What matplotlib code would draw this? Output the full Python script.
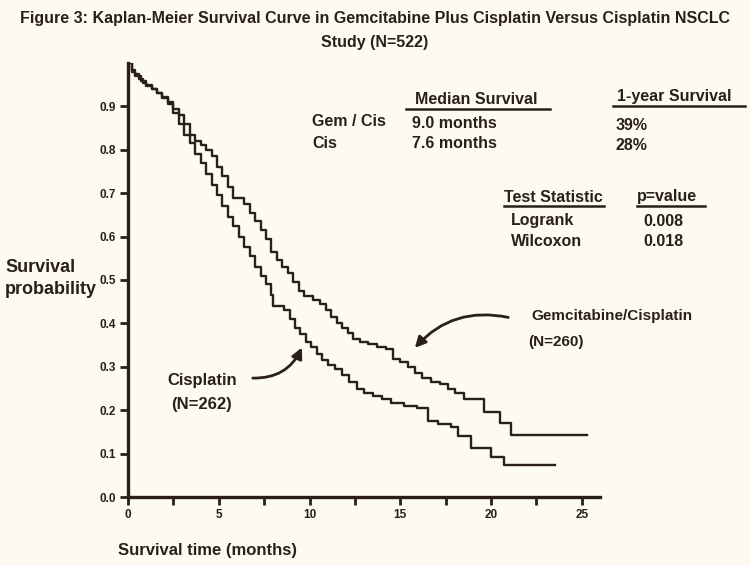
import matplotlib
matplotlib.use("Agg")
import matplotlib.pyplot as plt
from matplotlib.lines import Line2D
from matplotlib.patches import FancyArrowPatch

# 颜色与字体
ink = "#2a2016"
bgcolor = "#fdfaf1"
body_font = ["Liberation Sans", "DejaVu Sans"]

# Kaplan-Meier 数据：时间（月）与生存率
gem_time = [0, 0.2, 0.4, 0.6, 0.8, 1.0, 1.3, 1.6, 1.9, 2.2, 2.5, 2.8, 3.1, 3.4,
            3.7, 4.0, 4.3, 4.6, 4.9, 5.2, 5.5, 5.8, 6.4, 6.7, 7.0, 7.3, 7.6,
            7.9, 8.2, 8.5, 8.8, 9.1, 9.4, 9.7, 10.2, 10.6, 10.9, 11.2, 11.5,
            11.8, 12.1, 12.4, 12.8, 13.2, 13.7, 14.2, 14.6, 15.0, 15.4, 15.8,
            16.2, 16.7, 17.2, 17.6, 18.0, 18.5, 19.6, 20.5, 21.1, 25.3]
gem_surv = [1.0, 0.985, 0.975, 0.962, 0.955, 0.948, 0.94, 0.93, 0.922, 0.91,
            0.895, 0.88, 0.86, 0.835, 0.82, 0.81, 0.80, 0.785, 0.76, 0.74,
            0.715, 0.69, 0.675, 0.655, 0.635, 0.615, 0.595, 0.565, 0.545,
            0.53, 0.515, 0.495, 0.475, 0.462, 0.455, 0.445, 0.43, 0.415, 0.40,
            0.39, 0.378, 0.365, 0.358, 0.352, 0.345, 0.34, 0.318, 0.31, 0.30,
            0.285, 0.275, 0.265, 0.26, 0.25, 0.24, 0.225, 0.195, 0.17, 0.143,
            0.143]

cis_time = [0, 0.2, 0.4, 0.7, 1.0, 1.3, 1.6, 1.9, 2.2, 2.5, 2.8, 3.1, 3.4, 3.7,
            4.0, 4.3, 4.6, 4.9, 5.2, 5.5, 5.8, 6.1, 6.4, 6.7, 7.0, 7.3, 7.6,
            7.9, 8.0, 8.6, 8.9, 9.2, 9.5, 9.8, 10.1, 10.4, 10.7, 11.0, 11.4,
            11.8, 12.2, 12.6, 13.0, 13.5, 14.0, 14.5, 15.2, 15.9, 16.5, 17.1,
            17.8, 18.2, 18.9, 20.0, 20.7, 23.5]
cis_surv = [1.0, 0.98, 0.97, 0.958, 0.95, 0.94, 0.93, 0.92, 0.905, 0.885, 0.86,
            0.835, 0.815, 0.79, 0.77, 0.745, 0.72, 0.695, 0.67, 0.645, 0.625,
            0.60, 0.575, 0.555, 0.53, 0.51, 0.49, 0.465, 0.44, 0.43, 0.41,
            0.39, 0.375, 0.358, 0.345, 0.33, 0.315, 0.305, 0.295, 0.28, 0.265,
            0.25, 0.24, 0.232, 0.225, 0.217, 0.21, 0.205, 0.175, 0.168, 0.162,
            0.14, 0.113, 0.092, 0.074, 0.074]

y_ticks = [0.0, 0.1, 0.2, 0.3, 0.4, 0.5, 0.6, 0.7, 0.8, 0.9]
x_ticks = [0, 5, 10, 15, 20, 25]
x_minor = [2.5, 7.5, 12.5, 17.5, 22.5]

W, H = 750, 566


def px(x, y):
    # 像素坐标 -> 画布比例坐标
    return x / W, 1 - y / H


fig = plt.figure(figsize=(7.5, 5.66), dpi=100, facecolor=bgcolor)
ax = fig.add_axes([128 / W, 1 - 497 / H, (600 - 128) / W, (497 - 63) / H])
ax.set_facecolor(bgcolor)

ax.step(gem_time, gem_surv, where="post", color=ink, lw=1.7)
ax.step(cis_time, cis_surv, where="post", color=ink, lw=1.7)

ax.set_xlim(0, 26)
ax.set_ylim(0, 1.0)
for side in ["top", "right"]:
    ax.spines[side].set_visible(False)
for side in ["left", "bottom"]:
    ax.spines[side].set_linewidth(2.4)
    ax.spines[side].set_color(ink)

ax.set_yticks(y_ticks)
ax.set_yticklabels([f"{v:.1f}" for v in y_ticks])
ax.set_xticks(x_ticks)
ax.set_xticklabels([str(v) for v in x_ticks])
ax.set_xticks(x_minor, minor=True)
ax.tick_params(axis="both", which="both", direction="out", length=6, width=2,
               color=ink, labelsize=8.5, labelcolor=ink, pad=3)
for lab in ax.get_xticklabels() + ax.get_yticklabels():
    lab.set_fontweight("bold")
    lab.set_family(body_font)

# 标题
tkw = dict(ha="center", va="center", color=ink, family=body_font,
           fontweight="bold", fontsize=11.5, transform=fig.transFigure)
fig.text(*px(375, 18), "Figure 3: Kaplan-Meier Survival Curve in Gemcitabine "
         "Plus Cisplatin Versus Cisplatin NSCLC", **tkw)
fig.text(*px(375, 42), "Study (N=522)", **tkw)

# 坐标轴标题
kw = dict(ha="left", va="center", color=ink, family=body_font,
          fontweight="bold", transform=fig.transFigure)
fig.text(*px(5, 268), "Survival", fontsize=13, **kw)
fig.text(*px(5, 290), "probability", fontsize=13, **kw)
fig.text(*px(118, 551), "Survival time (months)", fontsize=12, **kw)

# 右上角表格
table_items = [
    (415, 100, "Median Survival"), (617, 97, "1-year Survival"),
    (312, 122, "Gem / Cis"), (312, 143, "Cis"),
    (412, 123, "9.0 months"), (412, 143, "7.6 months"),
    (616, 125, "39%"), (616, 145, "28%"),
    (504, 197, "Test Statistic"), (637, 197, "p=value"),
    (511, 220, "Logrank"), (511, 242, "Wilcoxon"),
    (643, 221, "0.008"), (643, 242, "0.018"),
]
for x, y, s in table_items:
    fig.text(*px(x, y), s, fontsize=11.5, **kw)

underlines = [(406, 550, 109), (613, 745, 106), (504, 604, 206), (637, 705, 206)]
for x0, x1, y in underlines:
    p0, p1 = px(x0, y), px(x1, y)
    fig.add_artist(Line2D([p0[0], p1[0]], [p0[1], p1[1]], color=ink, lw=1.8,
                          transform=fig.transFigure))

# 曲线标注
fig.text(*px(531, 316), "Gemcitabine/Cisplatin", fontsize=11, **kw)
fig.text(*px(528, 342), "(N=260)", fontsize=11, **kw)
fig.text(*px(167, 380), "Cisplatin", fontsize=12, **kw)
fig.text(*px(171, 405), "(N=262)", fontsize=12, **kw)

arrows = [((511, 318), (413, 350), 0.3), ((250, 378), (303, 345), 0.35)]
for start, end, rad in arrows:
    fig.add_artist(FancyArrowPatch(px(*start), px(*end), transform=fig.transFigure,
                                   arrowstyle="-|>", mutation_scale=16, lw=2,
                                   color=ink, connectionstyle=f"arc3,rad={rad}"))

fig.savefig("out.png", dpi=100, facecolor=bgcolor)
